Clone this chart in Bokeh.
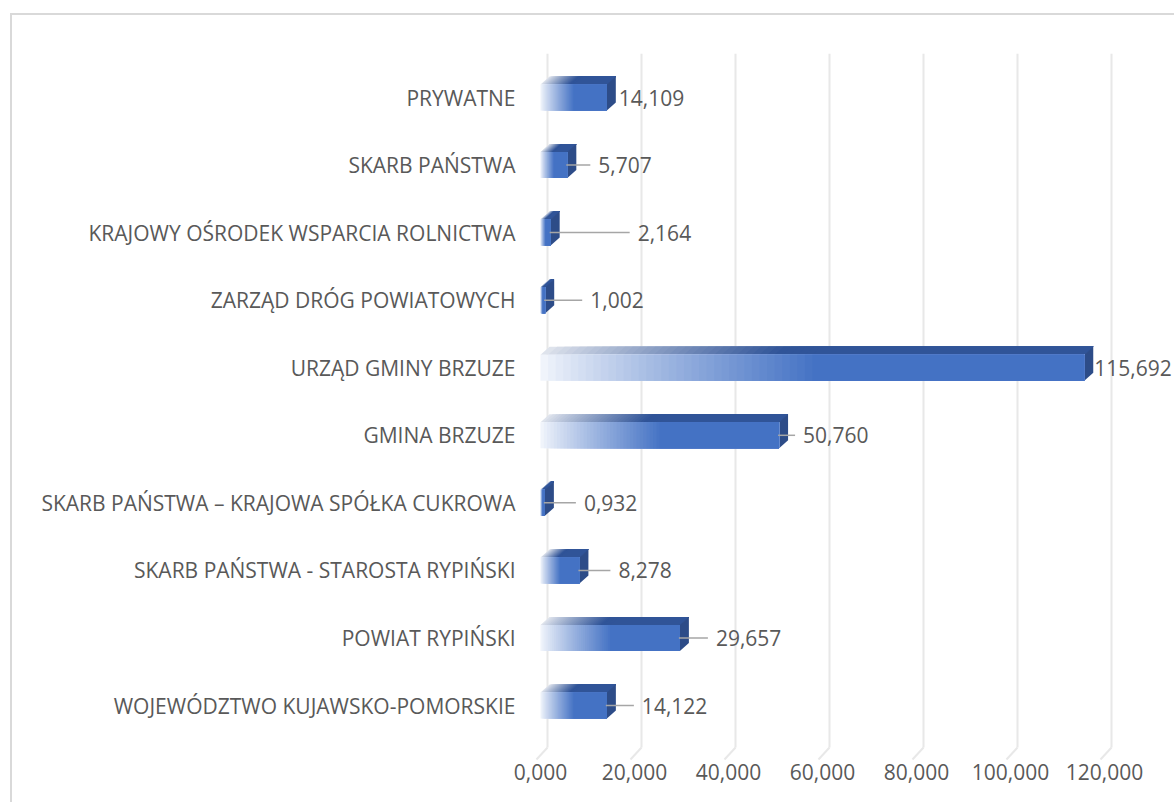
from bokeh.plotting import figure
from bokeh.models import Range1d, FixedTicker, ColumnDataSource
from bokeh.core.properties import value
from bokeh.embed import file_html
from bokeh.resources import INLINE

# ---------------- data ----------------
categories = [
    "WOJEWÓDZTWO KUJAWSKO-POMORSKIE",
    "POWIAT RYPIŃSKI",
    "SKARB PAŃSTWA - STAROSTA RYPIŃSKI",
    "SKARB PAŃSTWA – KRAJOWA SPÓŁKA CUKROWA",
    "GMINA BRZUZE",
    "URZĄD GMINY BRZUZE",
    "ZARZĄD DRÓG POWIATOWYCH",
    "KRAJOWY OŚRODEK WSPARCIA ROLNICTWA",
    "SKARB PAŃSTWA",
    "PRYWATNE",
]
values = [14.122, 29.657, 8.278, 0.932, 50.760, 115.692, 1.002, 2.164, 5.707, 14.109]
x_ticks = [0, 20, 40, 60, 80, 100, 120]

# label placement (style: pixel offset of each data label from bar end)
label_offsets_px = [35, 36, 39, 39, 24, 10, 45, 87, 31, 12]

def fmt(v):
    return f"{v:,.3f}".replace(",", " ").replace(".", ",")

# ---------------- layout ----------------
FRAME_W, FRAME_H = 644, 707
LEFT, TOP, BOTTOM = 530, 53, 42
PX_X = 4.7                      # px per data unit on x
PX_Y = 67.56                    # px per category step
x0 = -10 / PX_X
x1 = x0 + FRAME_W / PX_X
y1 = 9 + 44 / PX_Y
y0 = y1 - FRAME_H / PX_Y

BORDER = "#D9D9D9"
p = figure(width=LEFT + FRAME_W, height=TOP + FRAME_H + BOTTOM,
           x_range=Range1d(x0, x1), y_range=Range1d(y0, y1),
           output_backend="svg", toolbar_location=None,
           min_border_left=LEFT, min_border_right=0,
           min_border_top=TOP, min_border_bottom=BOTTOM)
p.outline_line_color = None
p.xgrid.visible = False
p.ygrid.visible = False
p.background_fill_color = "white"
p.border_fill_color = None
# chart-area frame (left and top edges visible in the crop)
p.styles = {
    "background": (
        f"linear-gradient({BORDER},{BORDER}) 10px 13px / 2px 100% no-repeat, "
        f"linear-gradient({BORDER},{BORDER}) 10px 13px / 100% 2px no-repeat, white"
    )
}

TEXT_COLOR = "#595959"
FONT = value("Open Sans")
FS = "21px"

# ---------------- gridlines (3D back wall + floor) ----------------
gdx = 7 / PX_X
g_bottom = y1 - 694 / PX_Y
g_floor = y1 - 706 / PX_Y
slant = 11 / PX_X
gx = [t + gdx for t in x_ticks]
p.segment(x0=gx, y0=[y1] * len(gx), x1=gx, y1=[g_bottom] * len(gx),
          line_color="#E8E8E8", line_width=2)
p.segment(x0=gx, y0=[g_bottom] * len(gx), x1=[g - slant for g in gx],
          y1=[g_floor] * len(gx), line_color="#E8E8E8", line_width=2)

# ---------------- 3D bars ----------------
H = 13 / PX_Y        # half height of front face
DDX = 9 / PX_X       # depth offset x
DDY = 8 / PX_Y       # depth offset y
N = 36
GRAD = 0.5

def mix(c0, c1, t):
    return "#%02x%02x%02x" % tuple(int(round(a + (b - a) * t)) for a, b in zip(c0, c1))

front0, front1 = (240, 244, 251), (68, 114, 196)
top0, top1 = (222, 227, 236), (48, 84, 152)
side_col = "#2D4C88"

fq = dict(left=[], right=[], bottom=[], top=[], color=[])
tp = dict(xs=[], ys=[], color=[])
sp = dict(xs=[], ys=[])
for i, v in enumerate(values):
    yb, yt = i - H, i + H
    for k in range(N + 1):
        t = k / N
        a = v * GRAD * t
        s = t ** 0.9
        fq["left"].append(a); fq["right"].append(v)
        fq["bottom"].append(yb); fq["top"].append(yt)
        fq["color"].append(mix(front0, front1, s))
        tp["xs"].append([a, v, v + DDX, a + DDX])
        tp["ys"].append([yt, yt, yt + DDY, yt + DDY])
        tp["color"].append(mix(top0, top1, min(1.0, s * 1.15)))
    sp["xs"].append([v, v + DDX, v + DDX, v])
    sp["ys"].append([yb, yb + DDY, yt + DDY, yt])

p.patches(xs="xs", ys="ys", fill_color="color", line_color=None,
          source=ColumnDataSource(tp))
p.patches(xs="xs", ys="ys", fill_color=side_col, line_color=None,
          source=ColumnDataSource(sp))
p.quad(left="left", right="right", bottom="bottom", top="top",
       fill_color="color", line_color=None, source=ColumnDataSource(fq))

# ---------------- leader lines + data labels ----------------
lx0, lx1, ly = [], [], []
for i, (v, off) in enumerate(zip(values, label_offsets_px)):
    if off > 15:
        lx0.append(v - 1 / PX_X)
        lx1.append(v + (off - 8) / PX_X)
        ly.append(i)
p.segment(x0=lx0, y0=ly, x1=lx1, y1=ly, line_color="#A6A6A6", line_width=1.5)

lab = ColumnDataSource(dict(x=values, y=list(range(len(values))),
                            text=[fmt(v) for v in values], off=label_offsets_px))
p.text(x="x", y="y", text="text", x_offset="off", source=lab,
       text_font=FONT, text_font_size=FS, text_color=TEXT_COLOR,
       text_align="left", text_baseline="middle")

# ---------------- axes ----------------
p.yaxis.ticker = FixedTicker(ticks=list(range(len(categories))))
p.yaxis.major_label_overrides = {i: c for i, c in enumerate(categories)}
p.yaxis.axis_line_color = None
p.yaxis.major_tick_line_color = None
p.yaxis.minor_tick_line_color = None
p.yaxis.major_tick_out = 0
p.yaxis.major_tick_in = 0
p.yaxis.major_label_standoff = 15
p.yaxis.major_label_text_font = "Open Sans"
p.yaxis.major_label_text_font_size = FS
p.yaxis.major_label_text_color = TEXT_COLOR

p.xaxis.ticker = FixedTicker(ticks=x_ticks)
p.xaxis.major_label_overrides = {t: fmt(t) for t in x_ticks}
p.xaxis.axis_line_color = None
p.xaxis.major_tick_line_color = None
p.xaxis.minor_tick_line_color = None
p.xaxis.major_tick_out = 0
p.xaxis.major_tick_in = 0
p.xaxis.major_label_standoff = 3
p.xaxis.major_label_text_font = "Open Sans"
p.xaxis.major_label_text_font_size = FS
p.xaxis.major_label_text_color = TEXT_COLOR

open("out.html", "w").write(file_html(p, INLINE))
